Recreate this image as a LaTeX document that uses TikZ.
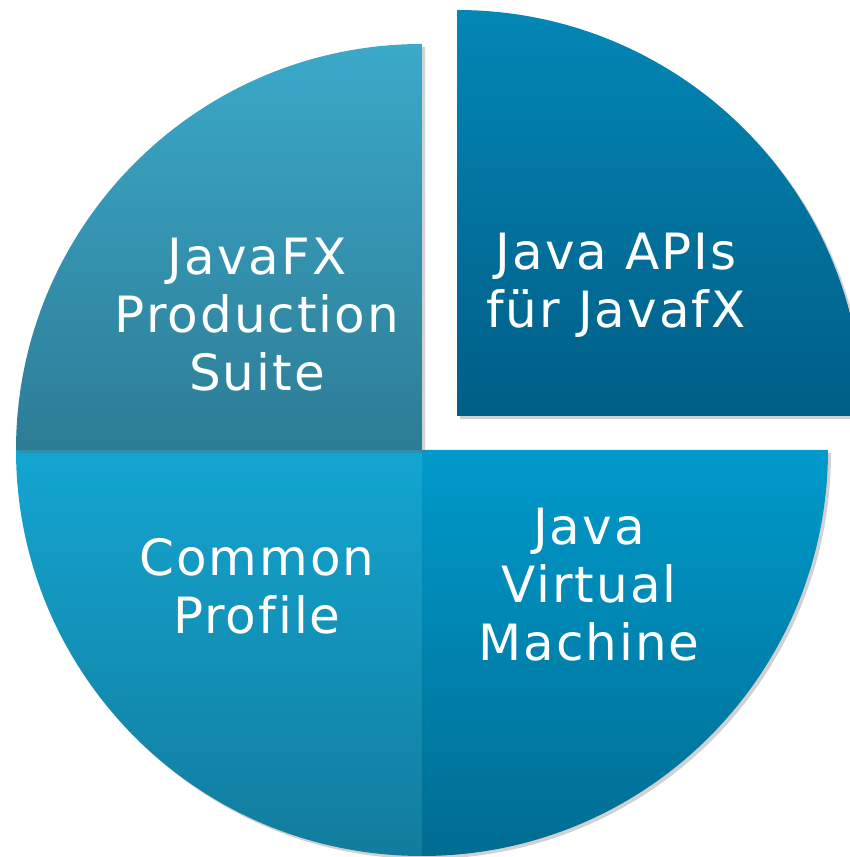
\documentclass[tikz,border=0pt]{standalone}
\usepackage{fontspec}
\setmainfont[LetterSpace=4,Ligatures=NoCommon]{DejaVu Sans}
\usetikzlibrary{shadows}
\definecolor{suiteTop}{HTML}{3BA9CA}
\definecolor{suiteBot}{HTML}{2D7C95}
\definecolor{apiTop}{HTML}{0387B6}
\definecolor{apiBot}{HTML}{005E86}
\definecolor{profTop}{HTML}{13A5D1}
\definecolor{profBot}{HTML}{127C9D}
\definecolor{vmTop}{HTML}{009ACB}
\definecolor{vmBot}{HTML}{006C91}
\newcommand{\PR}{406}
\newcommand{\TS}{\fontsize{50}{58}\selectfont}
\tikzset{
  slice/.style={drop shadow={shadow xshift=3pt,shadow yshift=-3pt,opacity=0.3,fill=black!60}},
  label/.style={text=white,align=center,font=\TS}
}

\begin{document}
\begin{tikzpicture}[x=1pt,y=1pt]
    \useasboundingbox (0,0) rectangle (850,857);

    % three quarters round the common centre
    \begin{scope}[shift={(422,407)}]
        \path[slice,top color=profTop,bottom color=profBot] (0,0) -- (0,-\PR) arc[start angle=270,end angle=180,radius=\PR] -- cycle;
        \path[slice,top color=vmTop,bottom color=vmBot] (0,0) -- (\PR,0) arc[start angle=0,end angle=-90,radius=\PR] -- cycle;
        \path[slice,top color=suiteTop,bottom color=suiteBot] (0,0) -- (-\PR,0) arc[start angle=180,end angle=90,radius=\PR] -- cycle;
    \end{scope}

    % pulled out quarter
    \begin{scope}[shift={(457,441)}]
        \path[slice,top color=apiTop,bottom color=apiBot] (0,0) -- (0,\PR) arc[start angle=90,end angle=0,radius=\PR] -- cycle;
    \end{scope}

    \node[label] (suite) at (257,542) {JavaFX\\Production\\Suite};
    \node[label] (api) at (616,572) {Java APIs\\für JavafX};
    \node[label] (profile) at (257,271) {Common\\Profile};
    \node[label] (vm) at (589,272) {Java\\Virtual\\Machine};
\end{tikzpicture}
\end{document}
